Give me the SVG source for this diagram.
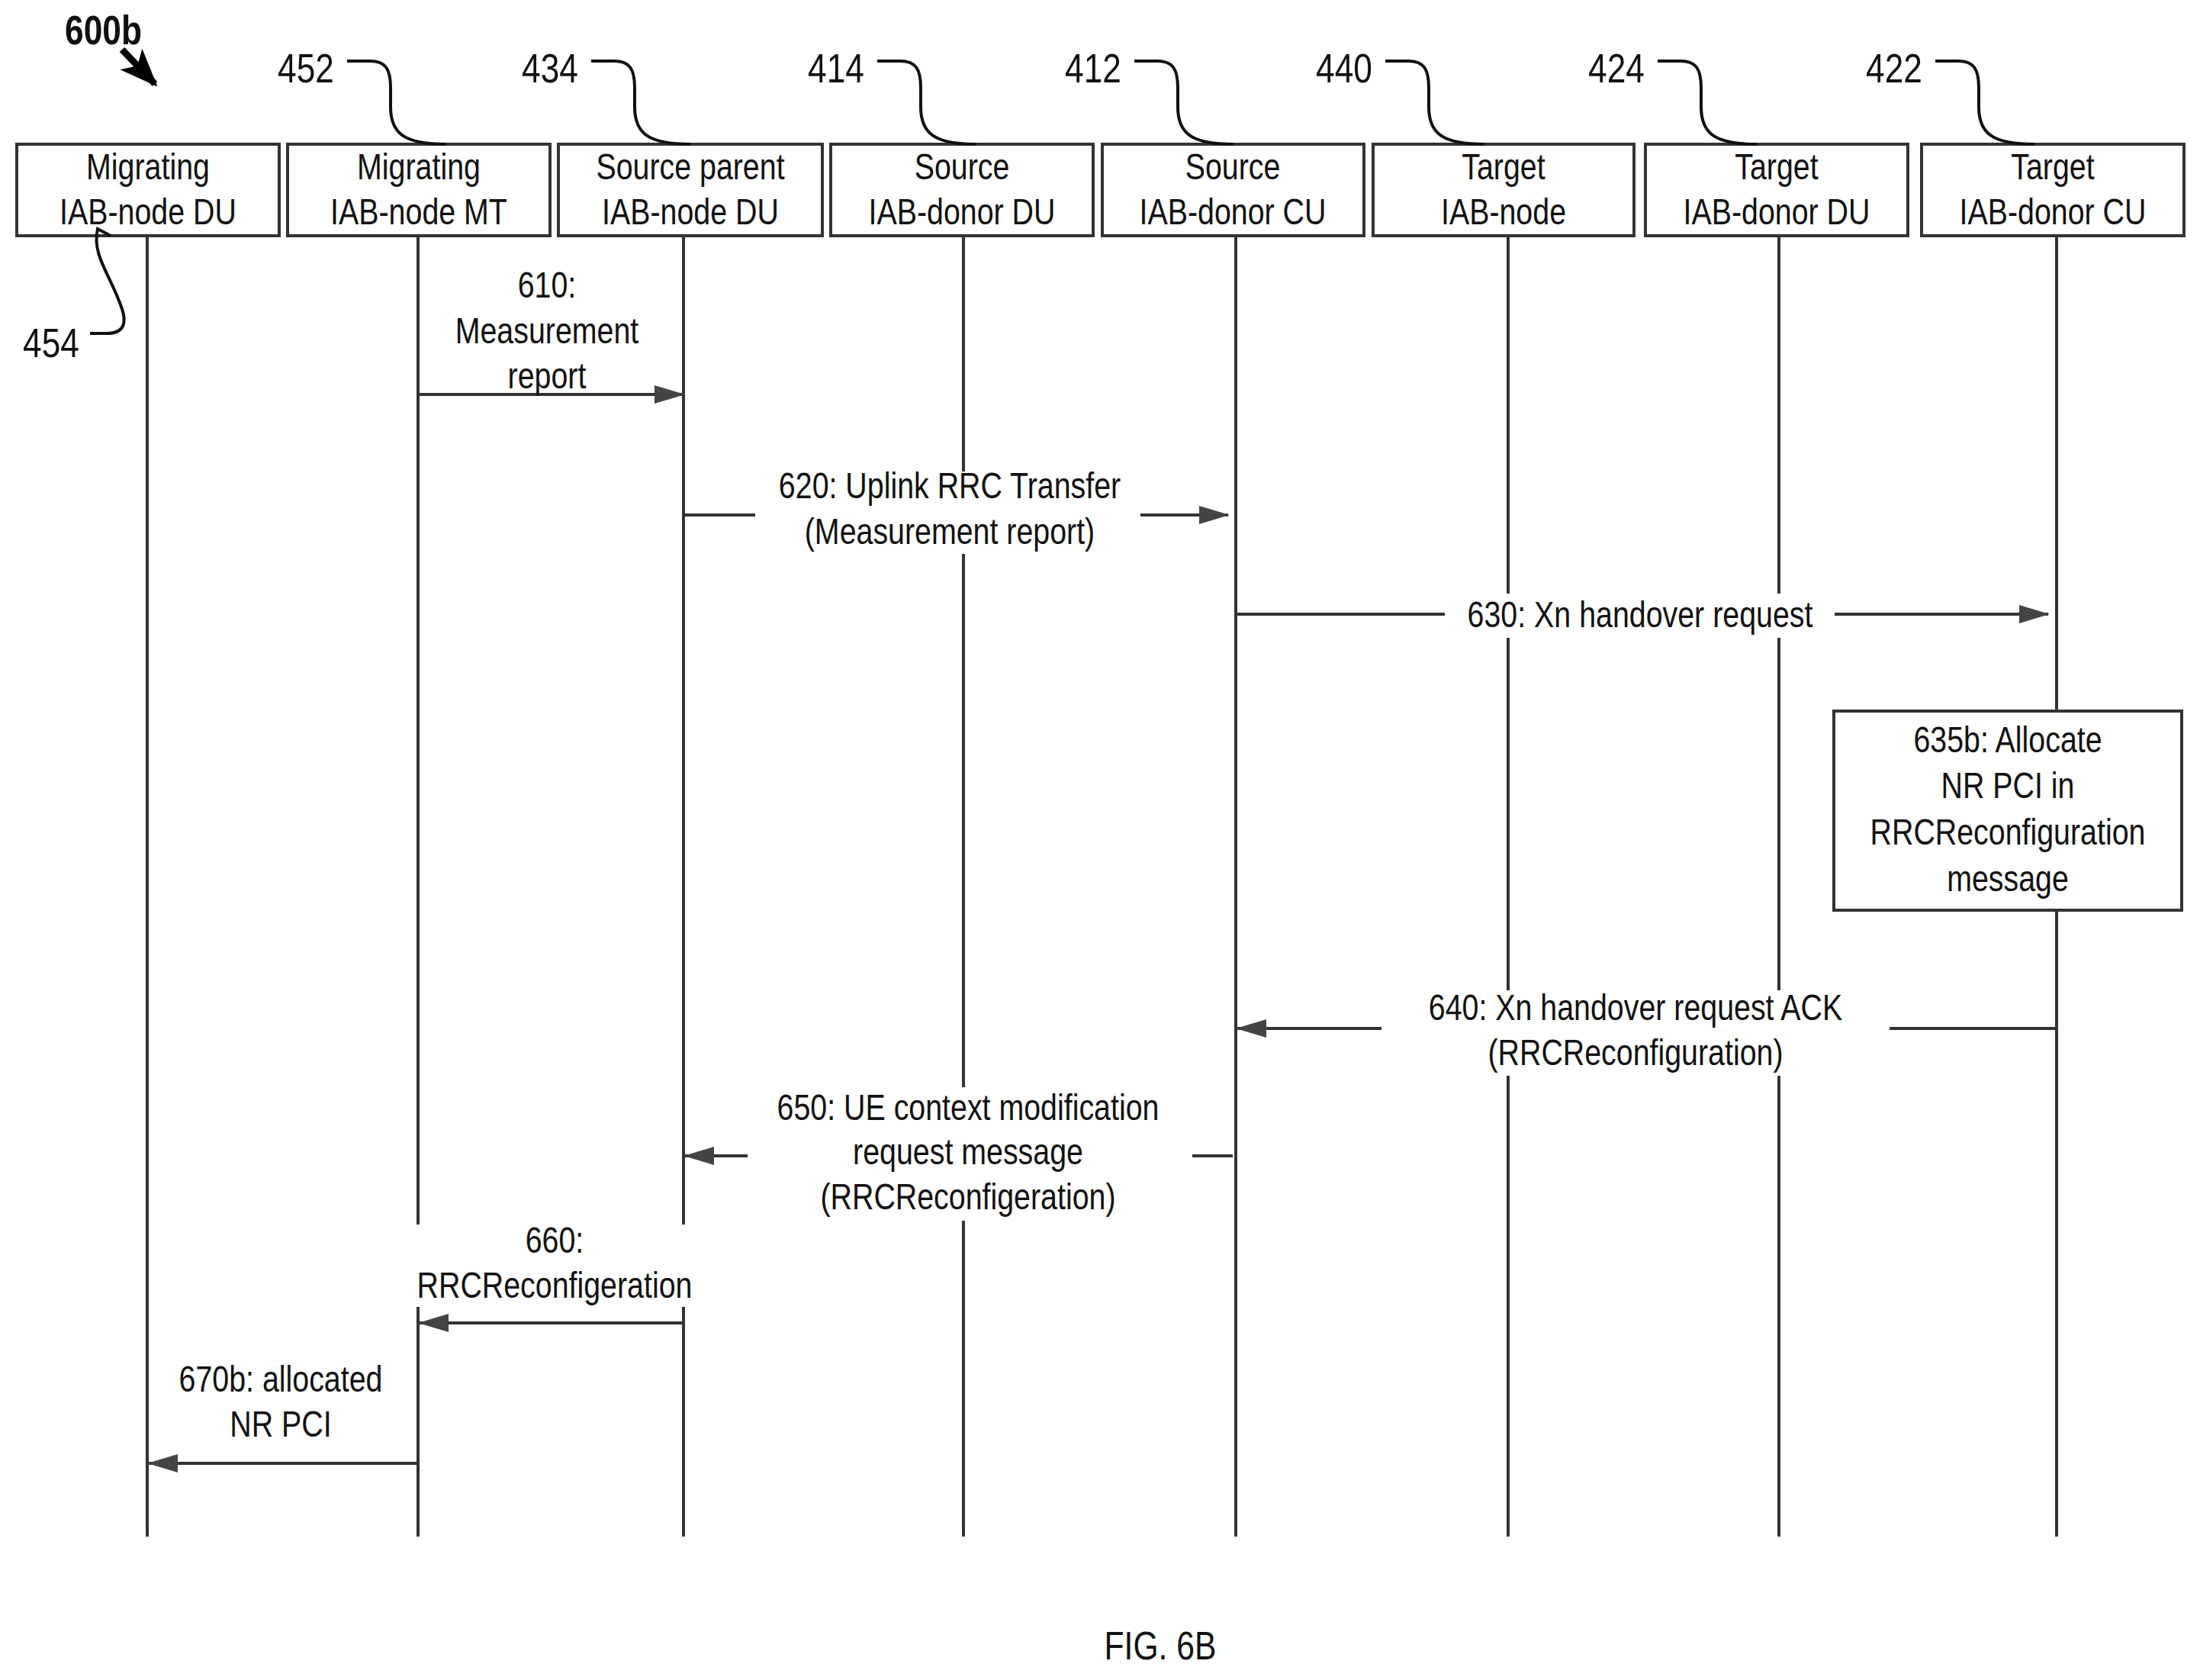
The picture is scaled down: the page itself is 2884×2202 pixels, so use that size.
<svg xmlns="http://www.w3.org/2000/svg" width="2884" height="2202" viewBox="0 0 2884 2202">
<style>
text{font-family:"Liberation Sans",Arial,sans-serif;font-size:48px;fill:#111;text-anchor:middle;transform-box:fill-box;transform-origin:center;transform:scaleX(0.82)}
.bg{fill:#fff}
.box{fill:#fff;stroke:#333;stroke-width:4}
.life{stroke:#333;stroke-width:4}
.msg{stroke:#333;stroke-width:4;fill:none}
.lead{stroke:#111;stroke-width:4;fill:none}
.ref{text-anchor:start;font-size:54px}
</style>
<defs>
<marker id="ah" markerWidth="40" markerHeight="24" refX="38" refY="12" orient="auto" markerUnits="userSpaceOnUse">
<path d="M0,0 L40,12 L0,24 Z" fill="#444"/>
</marker>
<marker id="big" markerWidth="50" markerHeight="50" refX="45" refY="25" orient="auto" markerUnits="userSpaceOnUse">
<path d="M0,5 L50,25 L0,45 L12,25 Z" fill="#000"/>
</marker>
</defs>
<text x="74" y="58" style="font-weight:bold;text-anchor:start;font-size:54px">600b</text>
<line x1="160" y1="65" x2="203" y2="110" stroke="#000" stroke-width="9" marker-end="url(#big)"/>
<g id="lifelines">
<line class="life" x1="193" y1="309" x2="193" y2="2014"/>
<line class="life" x1="548" y1="309" x2="548" y2="2014"/>
<line class="life" x1="896" y1="309" x2="896" y2="2014"/>
<line class="life" x1="1263" y1="309" x2="1263" y2="2014"/>
<line class="life" x1="1620" y1="309" x2="1620" y2="2014"/>
<line class="life" x1="1977" y1="309" x2="1977" y2="2014"/>
<line class="life" x1="2332" y1="309" x2="2332" y2="2014"/>
<line class="life" x1="2696" y1="309" x2="2696" y2="2014"/>
</g>
<g id="n1"><rect class="box" x="22" y="189" width="344" height="120"/><text x="194" y="235">Migrating</text><text x="194" y="294">IAB-node DU</text></g>
<g id="n2"><rect class="box" x="377" y="189" width="344" height="120"/><text x="549" y="235">Migrating</text><text x="549" y="294">IAB-node MT</text></g>
<g id="n3"><rect class="box" x="732" y="189" width="346" height="120"/><text x="905" y="235">Source parent</text><text x="905" y="294">IAB-node DU</text></g>
<g id="n4"><rect class="box" x="1089" y="189" width="344" height="120"/><text x="1261" y="235">Source</text><text x="1261" y="294">IAB-donor DU</text></g>
<g id="n5"><rect class="box" x="1445" y="189" width="343" height="120"/><text x="1616" y="235">Source</text><text x="1616" y="294">IAB-donor CU</text></g>
<g id="n6"><rect class="box" x="1800" y="189" width="342" height="120"/><text x="1971" y="235">Target</text><text x="1971" y="294">IAB-node</text></g>
<g id="n7"><rect class="box" x="2157" y="189" width="344" height="120"/><text x="2329" y="235">Target</text><text x="2329" y="294">IAB-donor DU</text></g>
<g id="n8"><rect class="box" x="2519" y="189" width="344" height="120"/><text x="2691" y="235">Target</text><text x="2691" y="294">IAB-donor CU</text></g>
<g id="n635"><rect class="box" x="2404" y="932" width="456" height="261"/>
<text x="2632" y="986">635b: Allocate</text><text x="2632" y="1046">NR PCI in</text><text x="2632" y="1107">RRCReconfiguration</text><text x="2632" y="1168">message</text></g>
<g id="refs">
<text class="ref" x="356" y="108">452</text><path class="lead" d="M455,80 H485 C505,80 512,90 512,115 V140 C512,175 530,189 585,189"/>
<text class="ref" x="676" y="108">434</text><path class="lead" d="M775,80 H805 C825,80 832,90 832,115 V140 C832,175 850,189 905,189"/>
<text class="ref" x="1051" y="108">414</text><path class="lead" d="M1150,80 H1180 C1200,80 1207,90 1207,115 V140 C1207,175 1225,189 1280,189"/>
<text class="ref" x="1388" y="108">412</text><path class="lead" d="M1487,80 H1517 C1537,80 1544,90 1544,115 V140 C1544,175 1562,189 1617,189"/>
<text class="ref" x="1717" y="108">440</text><path class="lead" d="M1816,80 H1846 C1866,80 1873,90 1873,115 V140 C1873,175 1891,189 1946,189"/>
<text class="ref" x="2074" y="108">424</text><path class="lead" d="M2173,80 H2203 C2223,80 2230,90 2230,115 V140 C2230,175 2248,189 2303,189"/>
<text class="ref" x="2438" y="108">422</text><path class="lead" d="M2537,80 H2567 C2587,80 2594,90 2594,115 V140 C2594,175 2612,189 2667,189"/>
<text class="ref" x="22" y="468">454</text><path class="lead" d="M118,437 H140 C165,437 165,420 160,405 C145,360 120,335 128,300 L145,309"/>
</g>
<g id="connectors">
<line class="msg" x1="548" y1="517" x2="896" y2="517" marker-end="url(#ah)"/>
<line class="msg" x1="896" y1="675" x2="990" y2="675"/>
<line class="msg" x1="1495" y1="675" x2="1610" y2="675" marker-end="url(#ah)"/>
<line class="msg" x1="1620" y1="805" x2="1894" y2="805"/>
<line class="msg" x1="2405" y1="805" x2="2685" y2="805" marker-end="url(#ah)"/>
<line class="msg" x1="2696" y1="1348" x2="2477" y2="1348"/>
<line class="msg" x1="1811" y1="1348" x2="1622" y2="1348" marker-end="url(#ah)"/>
<line class="msg" x1="1616" y1="1515" x2="1563" y2="1515"/>
<line class="msg" x1="980" y1="1515" x2="898" y2="1515" marker-end="url(#ah)"/>
<line class="msg" x1="896" y1="1734" x2="550" y2="1734" marker-end="url(#ah)"/>
<line class="msg" x1="548" y1="1918" x2="195" y2="1918" marker-end="url(#ah)"/>
</g>
<g id="labels">
<rect class="bg" x="1005" y="618" width="480" height="108"/>
<rect class="bg" x="1905" y="778" width="490" height="58"/>
<rect class="bg" x="1855" y="1298" width="580" height="112"/>
<rect class="bg" x="1005" y="1425" width="525" height="175"/>
<rect class="bg" x="540" y="1605" width="375" height="108"/>
<text x="717" y="390">610:</text><text x="717" y="450">Measurement</text><text x="717" y="509">report</text>
<text x="1245" y="653">620: Uplink RRC Transfer</text><text x="1245" y="713">(Measurement report)</text>
<text x="2150" y="822">630: Xn handover request</text>
<text x="2144" y="1337">640: Xn handover request ACK</text><text x="2144" y="1396">(RRCReconfiguration)</text>
<text x="1269" y="1468">650: UE context modification</text><text x="1269" y="1526">request message</text><text x="1269" y="1585">(RRCReconfigeration)</text>
<text x="727" y="1642">660:</text><text x="727" y="1701">RRCReconfigeration</text>
<text x="368" y="1824">670b: allocated</text><text x="368" y="1883">NR PCI</text>
</g>
<text x="1521" y="2175" style="font-size:52px">FIG. 6B</text>
</svg>
